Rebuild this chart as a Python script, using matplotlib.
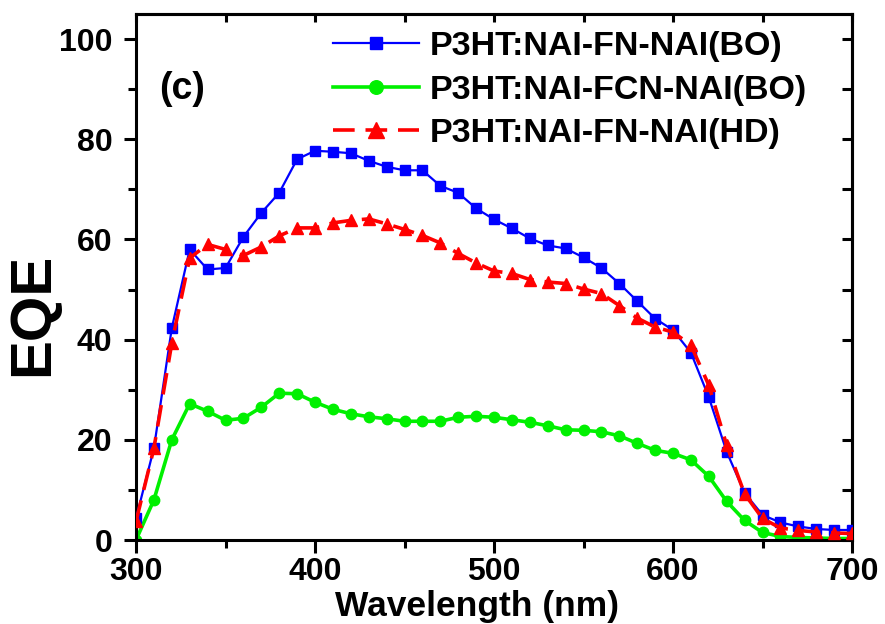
import matplotlib.pyplot as plt
from matplotlib.ticker import MultipleLocator

plt.rcParams['font.family'] = ['Liberation Sans', 'DejaVu Sans']
plt.rcParams['font.weight'] = 'bold'

wavelength = list(range(300, 701, 10))

eqe_fn_bo = [4.3, 18.3, 42.3, 58.0, 54.0, 54.3, 60.5, 65.3, 69.3, 76.0,
             77.7, 77.5, 77.2, 75.7, 74.5, 73.8, 73.8, 70.7, 69.3, 66.2,
             64.0, 62.2, 60.2, 58.8, 58.2, 56.4, 54.3, 51.2, 47.7, 44.2,
             41.9, 37.4, 28.5, 17.6, 9.4, 5.0, 3.5, 2.7, 2.2, 2.0, 2.0]

eqe_fcn_bo = [0.0, 8.0, 20.0, 27.2, 25.7, 23.9, 24.3, 26.5, 29.3, 29.2,
              27.5, 26.1, 25.2, 24.6, 24.2, 23.7, 23.7, 23.7, 24.5, 24.7,
              24.5, 24.0, 23.5, 22.8, 22.0, 21.9, 21.6, 20.8, 19.3, 17.9,
              17.3, 16.0, 12.7, 7.7, 3.9, 1.5, 0.7, 0.5, 0.4, 0.3, 0.3]

eqe_fn_hd = [3.7, 18.3, 39.3, 56.3, 59.0, 58.0, 56.8, 58.5, 60.7, 62.3,
             62.3, 63.3, 63.8, 64.1, 63.1, 62.0, 60.8, 59.3, 57.2, 55.3,
             53.7, 53.2, 52.0, 51.5, 51.2, 50.1, 49.2, 46.8, 44.3, 42.5,
             41.5, 38.9, 30.9, 18.9, 9.2, 4.3, 2.4, 1.9, 1.6, 1.4, 1.3]

labels = ['P3HT:NAI-FN-NAI(BO)', 'P3HT:NAI-FCN-NAI(BO)', 'P3HT:NAI-FN-NAI(HD)']

fig = plt.figure(figsize=(8.85, 6.24), dpi=100)
ax = fig.add_axes([136 / 885, 84 / 624, 716 / 885, 526 / 624])

ax.plot(wavelength, eqe_fn_bo, color='#0000ff', lw=1.6, marker='s', ms=6.5,
        label=labels[0], zorder=3)
ax.plot(wavelength, eqe_fcn_bo, color='#00f000', lw=2.6, marker='o', ms=7.5,
        label=labels[1], zorder=2)
ax.plot(wavelength, eqe_fn_hd, color='#ff0000', lw=2.6, marker='^', ms=8.5,
        linestyle=(0, (6, 3)), label=labels[2], zorder=4)

ax.set_xlim(300, 700)
ax.set_ylim(0, 105)
ax.xaxis.set_major_locator(MultipleLocator(100))
ax.xaxis.set_minor_locator(MultipleLocator(50))
ax.yaxis.set_major_locator(MultipleLocator(20))
ax.yaxis.set_minor_locator(MultipleLocator(10))

for s in ax.spines.values():
    s.set_linewidth(2.2)
ax.tick_params(which='major', direction='out', length=9, width=2.2,
               labelsize=23, pad=6)
ax.tick_params(axis='x', which='major', pad=3.5)
ax.tick_params(axis='y', which='major', pad=8)
ax.tick_params(which='minor', direction='out', length=5.5, width=2.2)

top = ax.secondary_xaxis('top')
top.xaxis.set_major_locator(MultipleLocator(50))
top.tick_params(direction='in', length=6, width=2.2, labeltop=False)
right = ax.secondary_yaxis('right')
right.yaxis.set_major_locator(MultipleLocator(10))
right.tick_params(direction='in', length=7, width=2.2, labelright=False)
top.spines['top'].set_linewidth(2.2)
right.spines['right'].set_linewidth(2.2)

ax.set_xlabel('Wavelength (nm)', fontsize=25.5, fontweight='bold', va='baseline')
ax.xaxis.set_label_coords(0.476, -0.145)
ax.set_ylabel('EQE', fontsize=42, fontweight='bold', va='center')
ax.yaxis.set_label_coords(-0.143, 0.429)

ax.text(313, 90, '(c)', fontsize=27, fontweight='bold', va='center', ha='left')

ax.legend(loc='upper left', bbox_to_anchor=((333 - 136) / 716, 0.967),
          frameon=False, fontsize=24.5, numpoints=1, handlelength=2.53,
          handletextpad=0.32, labelspacing=0.36, borderpad=0, borderaxespad=0,
          markerscale=1.3)

fig.savefig('out.png', dpi=100)
